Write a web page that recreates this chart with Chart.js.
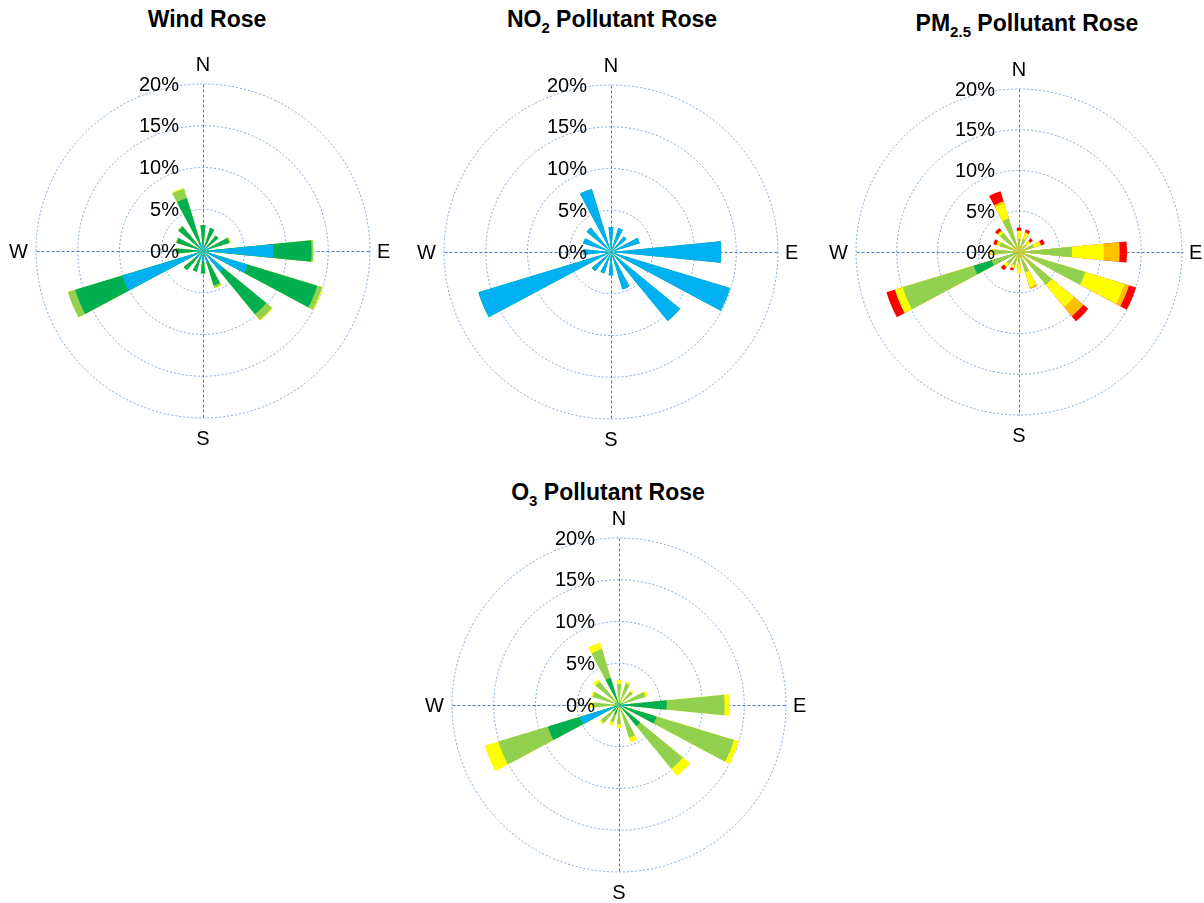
<!DOCTYPE html>
<html>
<head>
<meta charset="utf-8">
<title>Wind and Pollutant Roses</title>
<script src="https://cdn.jsdelivr.net/npm/chart.js@4.4.1/dist/chart.umd.min.js"></script>
<style>
    html, body { margin: 0; padding: 0; background: #fff; overflow: hidden; }
    #page { position: relative; width: 1204px; height: 903px; font-family: "Liberation Sans", Arial, sans-serif; }
    .title { position: absolute; transform: translateX(-50%); font-weight: bold; font-size: 23px; line-height: 1; white-space: nowrap; color: #000; }
    .title sub { font-size: 15px; line-height: 0; vertical-align: -6px; }
    canvas { position: absolute; }
</style>
</head>
<body>
<div id="page">
    <div class="title" style="left:207px; top:8px;">Wind Rose</div>
    <div class="title" style="left:612px; top:8px;">NO<sub>2</sub> Pollutant Rose</div>
    <div class="title" style="left:1027px; top:12px;">PM<sub>2.5</sub> Pollutant Rose</div>
    <div class="title" style="left:608px; top:481px;">O<sub>3</sub> Pollutant Rose</div>

    <canvas id="windRose" width="390" height="390" style="left:8px; top:56px;"></canvas>
    <canvas id="no2Rose" width="390" height="390" style="left:416px; top:57px;"></canvas>
    <canvas id="pm25Rose" width="390" height="390" style="left:824px; top:57px;"></canvas>
    <canvas id="o3Rose" width="390" height="390" style="left:424px; top:510px;"></canvas>
</div>

<script>
// 16 compass sectors, clockwise from north
const directions = ['N', 'NNE', 'NE', 'ENE', 'E', 'ESE', 'SE', 'SSE',
                    'S', 'SSW', 'SW', 'WSW', 'W', 'WNW', 'NW', 'NNW'];
const tickValues = [0, 5, 10, 15, 20];
const compassLabels = ['N', 'E', 'S', 'W'];

// Wind rose - frequency (%) per speed class
const windClass1 = [0.8, 0.8, 0.8, 0.8, 8.4, 5.6, 3.2, 1.5, 1.2, 1.0, 1.2, 10.1, 1.0, 0.8, 0.8, 1.0];
const windClass2 = [2.3, 2.1, 1.6, 2.5, 4.6, 8.7, 6.6, 2.8, 1.5, 1.6, 1.8, 5.9, 2.2, 2.5, 3.0, 5.6];
const windClass3 = [0, 0, 0, 0.1, 0.2, 0.6, 0.9, 0.3, 0, 0, 0, 0.9, 0.1, 0.1, 0.1, 1.2];
const windClass4 = [0, 0, 0, 0.1, 0.1, 0.1, 0.1, 0.1, 0, 0, 0, 0, 0, 0, 0, 0.1];

// NO2 pollutant rose - frequency (%) per concentration class
const no2Class1 = [3.0, 3.0, 2.4, 3.6, 13.2, 14.9, 10.7, 4.7, 2.8, 2.6, 2.9, 16.6, 3.3, 3.5, 3.8, 7.9];
const no2Class2 = [0, 0, 0, 0, 0, 0, 0, 0, 0, 0.1, 0.1, 0, 0, 0, 0, 0];

// PM2.5 pollutant rose - frequency (%) per concentration class
const pmClass1 = [0, 0, 0, 0, 0, 0, 0, 0, 0, 0, 0, 3.5, 0, 0, 0, 0];
const pmClass2 = [0, 0, 0, 0, 0, 0, 0, 0, 0, 0, 0, 2.3, 0, 0, 0, 0];
const pmClass3 = [1.6, 1.7, 1.2, 1.9, 6.5, 8.5, 5.2, 2.6, 1.4, 1.7, 1.9, 9.1, 3.1, 2.5, 3.0, 4.3];
const pmClass4 = [1.0, 0.8, 0.6, 0.9, 3.9, 5.0, 3.5, 1.9, 1.2, 0.4, 0.5, 1.0, 0.4, 0.4, 0.4, 1.9];
const pmClass5 = [0, 0, 0, 0, 1.95, 0.6, 1.5, 0.2, 0, 0, 0, 0, 0, 0, 0, 0.3];
const pmClass6 = [0.4, 0.4, 0.4, 0.5, 0.9, 0.9, 0.8, 0, 0, 0.3, 0.5, 1.1, 0, 0.4, 0.4, 1.3];

// O3 pollutant rose - frequency (%) per concentration class
const o3Class1 = [0, 0, 0, 0, 1.0, 0.5, 0.4, 0, 0, 0, 0, 4.9, 0, 0, 0, 0.3];
const o3Class2 = [0.4, 0.3, 0.3, 0.5, 4.7, 4.2, 2.9, 0.4, 0.3, 1.2, 1.0, 4.0, 0.5, 0.5, 0.6, 3.1];
const o3Class3 = [2.1, 2.4, 1.8, 2.8, 6.95, 9.7, 6.6, 3.7, 2.0, 1.0, 1.8, 6.2, 2.6, 2.8, 3.0, 3.6];
const o3Class4 = [0.5, 0.2, 0.2, 0.3, 0.6, 0.6, 1.1, 0.6, 0.45, 0.4, 0.2, 1.7, 0.4, 0.2, 0.4, 0.8];

const BLUE = '#00B0F0', DARK_GREEN = '#00B050', LIGHT_GREEN = '#92D050',
      YELLOW = '#FFFF00', ORANGE = '#FFC000', RED = '#FF0000';

// each direction gets a wedge slot followed by an empty gap slot
const slotLabels = [];
directions.forEach(d => { slotLabels.push(d); slotLabels.push(''); });

// Stack classes by drawing cumulative wedges; dataset 0 (innermost) is drawn on top
function roseDatasets(classes, colors) {
    const running = new Array(directions.length).fill(0);
    return classes.map((cls, k) => {
        cls.forEach((v, i) => { running[i] += v; });
        const data = [];
        running.forEach(v => { data.push(v); data.push(0); });
        return { data: data, backgroundColor: colors[k], borderWidth: 0 };
    });
}

// Compass cross, tick labels and N/E/S/W labels
const roseDecor = {
    id: 'roseDecor',
    beforeDatasetsDraw(chart) {
        const r = chart.scales.r;
        const ctx = chart.ctx;
        const R = r.drawingArea;
        const cx = Math.round(r.xCenter) + 0.5, cy = Math.round(r.yCenter) + 0.5;
        ctx.save();
        ctx.strokeStyle = '#4A7EC6';
        ctx.lineWidth = 1;
        ctx.setLineDash([3, 2]);
        ctx.beginPath();
        ctx.moveTo(cx, cy - R); ctx.lineTo(cx, cy + R);
        ctx.moveTo(cx - R, cy); ctx.lineTo(cx + R + 1, cy);
        ctx.stroke();
        ctx.restore();
    },
    afterDatasetsDraw(chart) {
        const r = chart.scales.r;
        const ctx = chart.ctx;
        const R = r.drawingArea;
        const cx = r.xCenter, cy = r.yCenter;
        ctx.save();
        ctx.fillStyle = '#000';
        ctx.font = '20px "Liberation Sans", Arial, sans-serif';
        ctx.textBaseline = 'middle';
        ctx.textAlign = 'right';
        tickValues.forEach(v => {
            ctx.fillText(v + '%', cx - 24, cy - r.getDistanceFromCenterForValue(v) + 1);
        });
        ctx.textAlign = 'center';
        ctx.fillText(compassLabels[0], cx, cy - R - 19);
        ctx.fillText(compassLabels[2], cx, cy + R + 21);
        ctx.textAlign = 'left';
        ctx.fillText(compassLabels[1], cx + R + 7, cy + 1);
        ctx.textAlign = 'right';
        ctx.fillText(compassLabels[3], cx - R - 8, cy + 1);
        ctx.restore();
    }
};

function drawRose(canvasId, classes, colors, pad) {
    const ctx = document.getElementById(canvasId).getContext('2d');
    return new Chart(ctx, {
        type: 'polarArea',
        data: {
            labels: slotLabels,
            datasets: roseDatasets(classes, colors)
        },
        options: {
            responsive: false,
            animation: false,
            layout: { padding: pad },
            plugins: {
                legend: { display: false },
                tooltip: { enabled: false }
            },
            scales: {
                r: {
                    min: 0,
                    max: 20,
                    startAngle: -5.625,
                    ticks: { display: false, stepSize: 5 },
                    grid: { circular: true, color: '#7EA6DC', lineWidth: 1 },
                    border: { dash: [2, 2] },
                    angleLines: { display: false },
                    pointLabels: { display: false }
                }
            }
        },
        plugins: [roseDecor]
    });
}

drawRose('windRose', [windClass1, windClass2, windClass3, windClass4],
         [BLUE, DARK_GREEN, LIGHT_GREEN, YELLOW], 28);
drawRose('no2Rose', [no2Class1, no2Class2],
         [BLUE, DARK_GREEN], 28);
drawRose('pm25Rose', [pmClass1, pmClass2, pmClass3, pmClass4, pmClass5, pmClass6],
         [LIGHT_GREEN, DARK_GREEN, LIGHT_GREEN, YELLOW, ORANGE, RED], 32);
drawRose('o3Rose', [o3Class1, o3Class2, o3Class3, o3Class4],
         [BLUE, DARK_GREEN, LIGHT_GREEN, YELLOW], 28);
</script>
</body>
</html>
